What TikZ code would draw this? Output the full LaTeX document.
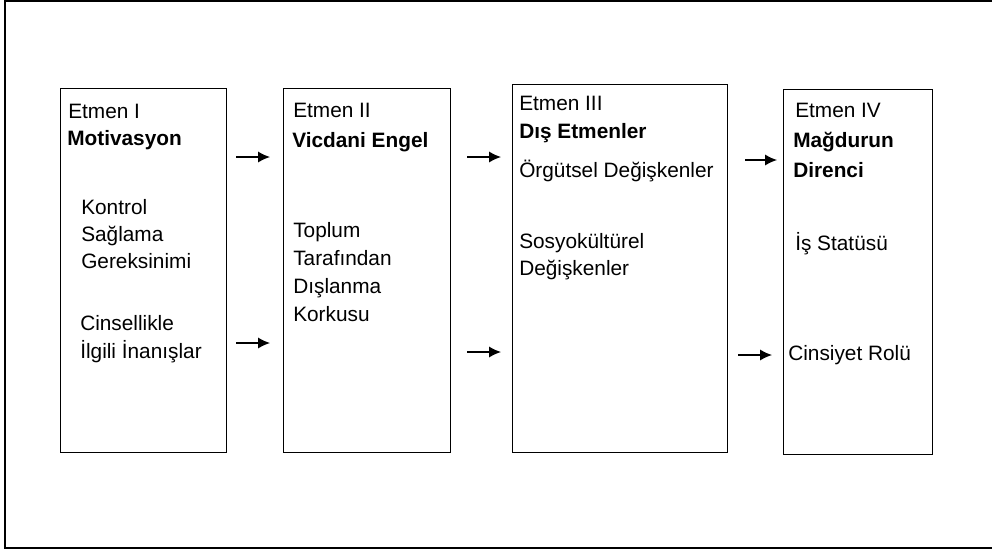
\documentclass[tikz,border=0pt]{standalone}
\usepackage{fontspec}
\setmainfont{Liberation Sans}
\usetikzlibrary{arrows.meta}
\tikzset{
  kutu/.style={draw, line width=0.8pt, anchor=north west, inner sep=0pt},
  yazi/.style={anchor=base west, inner sep=0pt, font=\fontsize{14.8}{17}\selectfont},
  baslik/.style={anchor=base west, inner sep=0pt, font=\fontsize{14.8}{17}\selectfont\bfseries},
  ok/.style={-{Latex[length=3mm,width=2.8mm]}, line width=0.9pt}
}

\begin{document}
\begin{tikzpicture}[x=0.025cm, y=-0.025cm]
    \path[use as bounding box] (0,0) rectangle (992,553);
    \draw[line width=0.8pt] (992,1) -- (5,1) -- (5,548) -- (992,548);

    % kutular
    \node[kutu, minimum width=4.15cm,  minimum height=9.1cm]   at (60,88)  (b1) {};
    \node[kutu, minimum width=4.175cm, minimum height=9.1cm]   at (283,88) (b2) {};
    \node[kutu, minimum width=5.375cm, minimum height=9.2cm]   at (512,84) (b3) {};
    \node[kutu, minimum width=3.725cm, minimum height=9.125cm] at (783,89) (b4) {};

    % Etmen I
    \node[yazi]   at (68,118)  (e1)  {Etmen I};
    \node[baslik] at (67,145)  (t1)  {Motivasyon};
    \node[yazi]   at (81,214)  (k1a) {Kontrol};
    \node[yazi]   at (81,241)  (k1b) {Sağlama};
    \node[yazi]   at (81,268)  (k1c) {Gereksinimi};
    \node[yazi]   at (80,330)  (k1d) {Cinsellikle};
    \node[yazi]   at (80,358)  (k1e) {İlgili İnanışlar};

    % Etmen II
    \node[yazi]   at (293,117) (e2)  {Etmen II};
    \node[baslik] at (292,147) (t2)  {Vicdani Engel};
    \node[yazi]   at (293,237) (k2a) {Toplum};
    \node[yazi]   at (293,265) (k2b) {Tarafından};
    \node[yazi]   at (293,293) (k2c) {Dışlanma};
    \node[yazi]   at (293,321) (k2d) {Korkusu};

    % Etmen III
    \node[yazi]   at (519,110) (e3)  {Etmen III};
    \node[baslik] at (519,138) (t3)  {Dış Etmenler};
    \node[yazi]   at (519,177) (k3a) {Örgütsel Değişkenler};
    \node[yazi]   at (519,248) (k3b) {Sosyokültürel};
    \node[yazi]   at (519,275) (k3c) {Değişkenler};

    % Etmen IV
    \node[yazi]   at (795,117) (e4)  {Etmen IV};
    \node[baslik] at (793,147) (t4a) {Mağdurun};
    \node[baslik] at (793,177) (t4b) {Direnci};
    \node[yazi]   at (795,250) (k4a) {İş Statüsü};
    \node[yazi]   at (788,360) (k4b) {Cinsiyet Rolü};

    % oklar
    \coordinate (o1a) at (236,157); \coordinate (o1b) at (270,157);
    \coordinate (o1c) at (236,343); \coordinate (o1d) at (270,343);
    \coordinate (o2a) at (467,157); \coordinate (o2b) at (501,157);
    \coordinate (o2c) at (467,352); \coordinate (o2d) at (501,352);
    \coordinate (o3a) at (745,160); \coordinate (o3b) at (777,160);
    \coordinate (o3c) at (738,355); \coordinate (o3d) at (772,355);

    \draw (o1a) edge[ok] (o1b);
    \draw (o1c) edge[ok] (o1d);
    \draw (o2a) edge[ok] (o2b);
    \draw (o2c) edge[ok] (o2d);
    \draw (o3a) edge[ok] (o3b);
    \draw (o3c) edge[ok] (o3d);
\end{tikzpicture}
\end{document}
